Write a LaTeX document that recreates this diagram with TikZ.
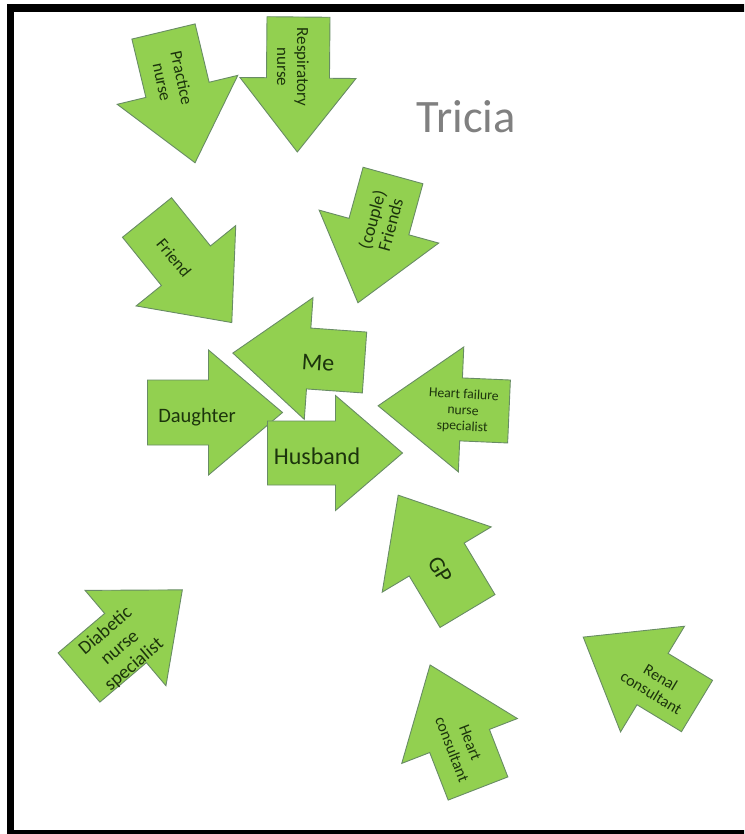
\documentclass[tikz,border=0pt]{standalone}
\usepackage{fontspec}
\setmainfont{Carlito}
\definecolor{arrowgreen}{RGB}{146,208,80}
\definecolor{arrowline}{RGB}{104,140,100}
\definecolor{labelgreen}{RGB}{28,52,12}
\definecolor{titlegray}{RGB}{128,128,128}
\tikzset{
  arrowshape/.style={fill=arrowgreen, draw=arrowline, line width=0.9pt, line join=miter},
  lbl/.style={text=labelgreen, inner sep=0pt, align=center},
  framebox/.style={draw=black, line width=7.5pt}
}
\newcommand{\blockarrow}[8]{%
  \begin{scope}[shift={(#2,-#3)}, rotate=#4]
    \draw[arrowshape] (0,-#6/2) -- (#5,-#6/2) -- (#5,-#8/2) -- (#5+#7,0) -- (#5,#8/2) -- (#5,#6/2) -- (0,#6/2) -- cycle;
    \coordinate (#1) at (0,0);
  \end{scope}}
\newcommand{\fs}[2]{\fontsize{#1pt}{#2pt}\selectfont}
\begin{document}
\begin{tikzpicture}[x=1pt,y=1pt]
\useasboundingbox (0,0) rectangle (744,-834);
\clip (0,0) rectangle (744,-834);
\fill[white] (0,0) rectangle (744,-834);
\draw[framebox] (10.5,-8) rectangle (770,-834);
% arrows: name, tail x, tail y, angle, shaft length, shaft width, head length, head width
\blockarrow{practiceA}{163.5}{31.5}{-76.5}{60}{65}{75}{124}
\blockarrow{respA}{298.5}{17}{-90.5}{61}{63}{74}{116}
\blockarrow{friendA}{147}{217.5}{-51.1}{62}{63}{73}{128}
\blockarrow{coupleA}{393}{175.5}{-105.4}{53}{62}{79}{124}
\blockarrow{meA}{364.5}{362.5}{175.9}{56}{61}{76}{122}
\blockarrow{daughterA}{147.5}{412.5}{0}{61}{65}{74}{125}
\blockarrow{husbandA}{267.5}{453}{0}{68}{64}{67}{115}
\blockarrow{hfA}{509}{411.5}{177.5}{48}{63}{83}{125}
\blockarrow{gpA}{467.5}{611}{120.9}{60}{64}{75}{127}
\blockarrow{diabA}{79}{677.5}{40.3}{61}{64.5}{74.5}{125}
\blockarrow{heartA}{478}{788.5}{111.2}{51}{64}{81.5}{124}
\blockarrow{renalA}{697}{706}{148.8}{52}{60}{81}{123.5}
% labels
\node[lbl, rotate=-78, font=\fs{17}{20}] (practice) at (172,-80) {Practice\\nurse};
\node[lbl, rotate=-90, font=\fs{17}{20}] (resp) at (293,-67) {Respiratory\\nurse};
\node[lbl, rotate=-50.6, font=\fs{17}{20}] (friend) at (174,-258) {Friend};
\node[lbl, rotate=74.6, font=\fs{18}{19}] (couple) at (381,-222) {(couple)\\Friends};
\node[lbl, rotate=-4, font=\fs{24}{28}] (me) at (318,-363) {Me};
\node[lbl, font=\fs{20.5}{24}] (daughter) at (197,-417) {Daughter};
\node[lbl, font=\fs{24}{28}] (husband) at (317,-456) {Husband};
\node[lbl, rotate=-3, font=\fs{13.7}{16}] (hf) at (463,-411) {Heart failure\\nurse\\specialist};
\node[lbl, rotate=-59.1, font=\fs{23}{26}] (gp) at (440,-570) {GP};
\node[lbl, rotate=40.3, font=\fs{19}{22}] (diab) at (120,-648) {Diabetic\\nurse\\specialist};
\node[lbl, rotate=-68.8, font=\fs{16}{19.5}] (heart) at (461,-746) {Heart\\consultant};
\node[lbl, rotate=-31.2, font=\fs{16}{18}] (renal) at (656,-685) {Renal\\consultant};
\node[text=titlegray, inner sep=0pt, font=\fs{46.5}{50}] (tricia) at (466,-117) {Tricia};
\end{tikzpicture}
\end{document}
